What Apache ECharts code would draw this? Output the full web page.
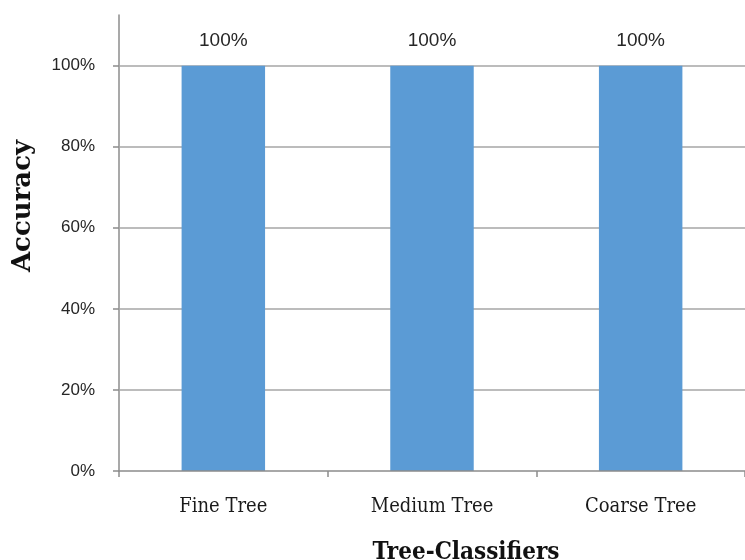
<!DOCTYPE html>
<html>
<head>
<meta charset="utf-8">
<script src="https://cdn.jsdelivr.net/npm/echarts@6/dist/echarts.min.js"></script>
<style>
  html, body { margin: 0; padding: 0; background: #fff; }
  #chart { width: 745px; height: 560px; }
</style>
</head>
<body>
<div id="chart"></div>
<script>
// Accuracy of the three tree classifiers
const categories = ['Fine Tree', 'Medium Tree', 'Coarse Tree'];
const accuracy = [1.0, 1.0, 1.0];
const yTicks = [0, 0.2, 0.4, 0.6, 0.8, 1.0];

const pct = v => Math.round(v * 100) + '%';
const gridColor = '#a6a6a6';
const axisColor = '#8c8c8c';

const chart = echarts.init(document.getElementById('chart'));
chart.setOption({
  animation: false,
  backgroundColor: '#ffffff',
  grid: { left: 119, right: -10, top: 15, bottom: 89, containLabel: false },
  xAxis: {
    type: 'category',
    data: categories,
    z: 5,
    axisLine: { lineStyle: { color: axisColor, width: 1.5 } },
    axisTick: { show: true, alignWithLabel: false, length: 6, lineStyle: { color: axisColor, width: 1.5 } },
    axisLabel: {
      margin: 26,
      fontFamily: 'DejaVu Serif Condensed',
      fontSize: 20,
      color: '#1a1a1a'
    }
  },
  yAxis: {
    type: 'value',
    min: 0,
    max: 1.125,
    interval: 0.2,
    axisLine: { show: true, lineStyle: { color: axisColor, width: 1.5 } },
    axisTick: { show: true, length: 6, customValues: yTicks, lineStyle: { color: axisColor, width: 1.5 } },
    axisLabel: {
      customValues: yTicks,
      margin: 24,
      fontFamily: 'Liberation Sans',
      fontSize: 17,
      color: '#262626',
      formatter: v => pct(v)
    },
    splitLine: { show: false }
  },
  series: [{
    type: 'bar',
    data: accuracy,
    barWidth: '40%',
    z: 3,
    itemStyle: { color: '#5b9bd5' },
    label: {
      show: true,
      position: 'top',
      distance: 15,
      fontFamily: 'Liberation Sans',
      fontSize: 19,
      color: '#262626',
      formatter: p => pct(p.value)
    },
    // horizontal gridlines at each labelled tick
    markLine: {
      silent: true,
      symbol: 'none',
      z: 1,
      label: { show: false },
      lineStyle: { color: gridColor, width: 1.5, type: 'solid' },
      data: yTicks.filter(v => v > 0).map(v => ({ yAxis: v }))
    }
  }],
  graphic: [
    {
      type: 'text',
      x: 466, y: 565,
      style: {
        text: 'Tree-Classifiers',
        font: 'bold 24px "DejaVu Serif Condensed"',
        fill: '#111',
        align: 'center',
        verticalAlign: 'bottom'
      }
    },
    {
      type: 'text',
      x: 23, y: 206,
      rotation: Math.PI / 2,
      style: {
        text: 'Accuracy',
        font: 'bold 26px "DejaVu Serif"',
        fill: '#111',
        align: 'center',
        verticalAlign: 'middle'
      }
    }
  ]
});
</script>
</body>
</html>
